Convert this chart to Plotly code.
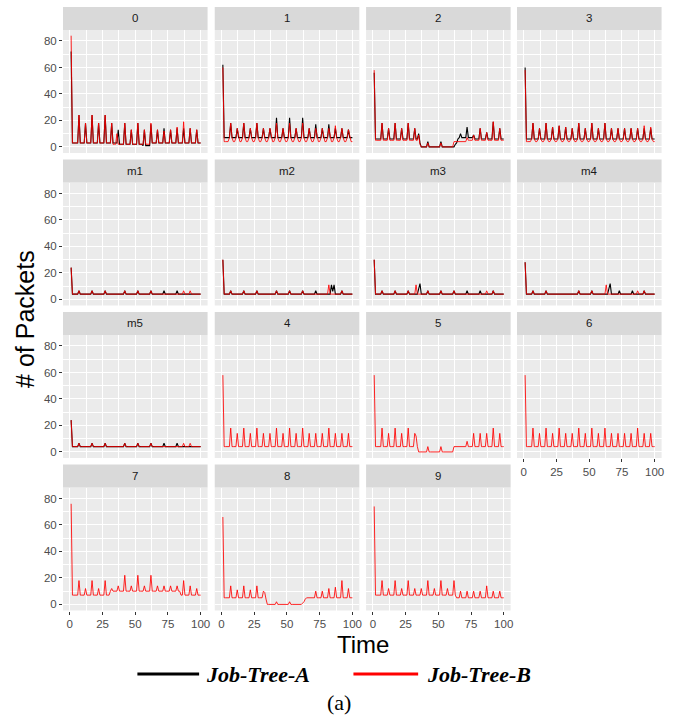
import plotly.graph_objects as go

# ---------------------------------------------------------------- data
TIME = list(range(1, 101))

PANELS = ["0", "1", "2", "3", "m1", "m2", "m3", "m4", "m5", "4", "5", "6", "7", "8", "9"]

# Job-Tree-A packet counts per node
tree_a_0 = [
    72, 3, 3, 3, 3, 3, 24, 3, 3, 3,
    3, 18, 3, 3, 3, 3, 24, 3, 3, 3,
    3, 18, 3, 3, 3, 3, 24, 3, 3, 3,
    3, 18, 3, 3, 3, 3, 13, 2, 2, 2,
    2, 18, 2, 2, 2, 2, 13, 2, 2, 2,
    2, 18, 2, 2, 2, 1, 13, 1, 1, 1,
    1, 17, 3, 3, 3, 3, 13, 3, 3, 3,
    3, 14, 3, 3, 3, 3, 13, 3, 3, 3,
    3, 14, 3, 3, 3, 3, 14, 3, 3, 3,
    3, 14, 3, 3, 3, 3, 13, 3, 3, 3,
]
tree_a_1 = [
    62, 7, 7, 7, 7, 7, 18, 7, 7, 7,
    7, 14, 7, 7, 7, 7, 18, 7, 7, 7,
    7, 14, 7, 7, 7, 7, 18, 7, 7, 7,
    7, 14, 7, 7, 7, 7, 14, 7, 7, 7,
    7, 22, 7, 7, 7, 7, 14, 7, 7, 7,
    7, 22, 7, 7, 7, 7, 14, 7, 7, 7,
    7, 22, 7, 7, 7, 7, 14, 7, 7, 7,
    7, 17, 7, 7, 7, 7, 14, 7, 7, 7,
    7, 17, 7, 7, 7, 7, 14, 7, 7, 7,
    7, 14, 7, 7, 7, 7, 13, 7, 7, 7,
]
tree_a_2 = [
    56, 6, 6, 6, 6, 6, 18, 6, 6, 6,
    6, 14, 6, 6, 6, 6, 18, 6, 6, 6,
    6, 14, 6, 6, 6, 6, 18, 6, 6, 6,
    6, 14, 6, 6, 10, 3, 0, 0, 0, 0,
    0, 4, 0, 0, 0, 0, 0, 0, 0, 0,
    0, 4, 0, 0, 0, 0, 0, 0, 0, 0,
    0, 0, 2, 3, 6, 7, 10, 7, 7, 7,
    7, 15, 7, 7, 7, 7, 9, 6, 6, 6,
    6, 14, 6, 6, 6, 6, 11, 6, 6, 6,
    6, 19, 6, 6, 6, 6, 14, 6, 6, 6,
]
tree_a_3 = [
    60, 6, 6, 6, 6, 6, 18, 6, 6, 6,
    6, 14, 6, 6, 6, 6, 18, 6, 6, 6,
    6, 15, 6, 6, 6, 6, 16, 6, 6, 6,
    6, 15, 6, 6, 6, 6, 14, 6, 6, 6,
    6, 18, 6, 6, 6, 6, 14, 6, 6, 6,
    6, 18, 6, 6, 6, 6, 14, 6, 6, 6,
    6, 18, 6, 6, 6, 6, 14, 6, 6, 6,
    6, 14, 6, 6, 6, 6, 14, 6, 6, 6,
    6, 14, 6, 6, 6, 6, 14, 6, 6, 6,
    6, 14, 6, 6, 6, 6, 14, 6, 6, 6,
]
tree_a_m1 = [
    24, 4, 4, 4, 4, 4, 6.5, 4, 4, 4,
    4, 4, 4, 4, 4, 4, 6.5, 4, 4, 4,
    4, 4, 4, 4, 4, 4, 6.5, 4, 4, 4,
    4, 4, 4, 4, 4, 4, 4, 4, 4, 4,
    4, 6.5, 4, 4, 4, 4, 4, 4, 4, 4,
    4, 6.5, 4, 4, 4, 4, 4, 4, 4, 4,
    4, 6.5, 4, 4, 4, 4, 4, 4, 4, 4,
    4, 6.5, 4, 4, 4, 4, 4, 4, 4, 4,
    4, 6.5, 4, 4, 4, 4, 4, 4, 4, 4,
    4, 4, 4, 4, 4, 4, 4, 4, 4, 4,
]
tree_a_m2 = [
    30, 4, 4, 4, 4, 4, 6.5, 4, 4, 4,
    4, 4, 4, 4, 4, 4, 6.5, 4, 4, 4,
    4, 4, 4, 4, 4, 4, 6.5, 4, 4, 4,
    4, 4, 4, 4, 4, 4, 4, 4, 4, 4,
    4, 6.5, 4, 4, 4, 4, 4, 4, 4, 4,
    4, 6.5, 4, 4, 4, 4, 4, 4, 4, 4,
    4, 6.5, 4, 4, 4, 4, 4, 4, 4, 4,
    4, 6.5, 4, 4, 4, 4, 4, 4, 4, 4,
    4, 4, 4, 11, 6, 11, 4, 4, 4, 4,
    4, 6.5, 4, 4, 4, 4, 4, 4, 4, 4,
]
tree_a_m3 = [
    30, 4, 4, 4, 4, 4, 6.5, 4, 4, 4,
    4, 4, 4, 4, 4, 4, 6.5, 4, 4, 4,
    4, 4, 4, 4, 4, 4, 6.5, 4, 4, 4,
    4, 4, 4, 4, 8, 12, 4, 4, 4, 4,
    4, 6.5, 4, 4, 4, 4, 4, 4, 4, 4,
    4, 6.5, 4, 4, 4, 4, 4, 4, 4, 4,
    4, 6.5, 4, 4, 4, 4, 4, 4, 4, 4,
    4, 6.5, 4, 4, 4, 4, 4, 4, 4, 4,
    4, 6.5, 4, 4, 4, 4, 4, 4, 4, 4,
    4, 6.5, 4, 4, 4, 4, 4, 4, 4, 4,
]
tree_a_m4 = [
    28, 4, 4, 4, 4, 4, 6.5, 4, 4, 4,
    4, 4, 4, 4, 4, 4, 6.5, 4, 4, 4,
    4, 4, 4, 4, 4, 4, 4, 4, 4, 4,
    4, 4, 4, 4, 4, 4, 4, 4, 4, 4,
    4, 6.5, 4, 4, 4, 4, 4, 4, 4, 4,
    4, 6.5, 4, 4, 4, 4, 4, 4, 4, 4,
    4, 4, 4, 4, 8, 12, 4, 4, 4, 4,
    4, 4, 6.5, 4, 4, 4, 4, 4, 4, 4,
    4, 4, 6.5, 4, 4, 4, 4, 4, 4, 4,
    4, 6.5, 4, 4, 4, 4, 4, 4, 4, 4,
]
tree_a_m5 = [
    24, 4, 4, 4, 4, 4, 6.5, 4, 4, 4,
    4, 4, 4, 4, 4, 4, 6.5, 4, 4, 4,
    4, 4, 4, 4, 4, 4, 6.5, 4, 4, 4,
    4, 4, 4, 4, 4, 4, 4, 4, 4, 4,
    4, 6.5, 4, 4, 4, 4, 4, 4, 4, 4,
    4, 6.5, 4, 4, 4, 4, 4, 4, 4, 4,
    4, 6.5, 4, 4, 4, 4, 4, 4, 4, 4,
    4, 6.5, 4, 4, 4, 4, 4, 4, 4, 4,
    4, 6.5, 4, 4, 4, 4, 4, 4, 4, 4,
    4, 4, 4, 4, 4, 4, 4, 4, 4, 4,
]

# Job-Tree-B packet counts per node
tree_b_0 = [
    84, 3, 3, 3, 3, 3, 24, 3, 3, 3,
    3, 18, 3, 3, 3, 3, 24, 3, 3, 3,
    3, 18, 3, 3, 3, 3, 24, 3, 3, 3,
    3, 18, 2, 2, 2, 10, 2, 2, 2, 2,
    2, 18, 2, 2, 2, 2, 13, 2, 2, 2,
    2, 18, 2, 2, 2, 2, 13, 2, 2, 2,
    2, 18, 3, 3, 3, 3, 13, 3, 3, 3,
    3, 12, 3, 3, 3, 3, 13, 3, 3, 3,
    3, 15, 3, 3, 3, 3, 19, 3, 3, 3,
    3, 14, 3, 3, 3, 3, 13, 3, 3, 3,
]
tree_b_1 = [
    60, 4, 4, 4, 4, 7, 18, 7, 4, 4,
    7, 14, 7, 4, 4, 7, 18, 7, 4, 4,
    7, 14, 7, 4, 4, 7, 18, 7, 4, 4,
    7, 14, 7, 4, 4, 7, 14, 7, 4, 4,
    7, 18, 7, 4, 4, 7, 14, 7, 4, 4,
    7, 18, 7, 4, 4, 7, 14, 7, 4, 4,
    7, 18, 7, 4, 4, 7, 14, 7, 4, 4,
    7, 14, 7, 4, 4, 7, 14, 7, 4, 4,
    7, 14, 7, 4, 4, 7, 16, 7, 4, 4,
    7, 14, 7, 4, 4, 7, 13, 7, 4, 4,
]
tree_b_2 = [
    58, 5, 5, 5, 5, 5, 18, 5, 5, 5,
    5, 14, 5, 5, 5, 5, 18, 5, 5, 5,
    5, 14, 5, 5, 5, 5, 18, 5, 5, 5,
    5, 14, 5, 5, 9, 2, 0, 0, 0, 0,
    0, 3, 0, 0, 0, 0, 0, 0, 0, 0,
    0, 3, 0, 0, 0, 0, 0, 0, 0, 0,
    0, 4, 4, 4, 4, 4, 4, 4, 4, 4,
    4, 7, 5, 5, 5, 5, 9, 5, 5, 5,
    5, 14, 5, 5, 5, 5, 11, 5, 5, 5,
    5, 19, 5, 5, 5, 5, 14, 5, 5, 5,
]
tree_b_3 = [
    58, 4, 4, 4, 4, 6, 18, 6, 4, 4,
    6, 14, 6, 4, 4, 6, 18, 6, 4, 4,
    6, 15, 6, 4, 4, 6, 16, 6, 4, 4,
    6, 15, 6, 4, 4, 6, 14, 6, 4, 4,
    6, 18, 6, 4, 4, 6, 14, 6, 4, 4,
    6, 18, 6, 4, 4, 6, 14, 6, 4, 4,
    6, 18, 6, 4, 4, 6, 14, 6, 4, 4,
    6, 14, 6, 4, 4, 6, 14, 6, 4, 4,
    6, 14, 6, 4, 4, 6, 14, 6, 4, 4,
    6, 16, 6, 4, 4, 6, 15, 6, 4, 4,
]
tree_b_m1 = [
    24, 4, 4, 4, 4, 4, 6.5, 4, 4, 4,
    4, 4, 4, 4, 4, 4, 6.5, 4, 4, 4,
    4, 4, 4, 4, 4, 4, 6.5, 4, 4, 4,
    4, 4, 4, 4, 4, 4, 4, 4, 4, 4,
    4, 6.5, 4, 4, 4, 4, 4, 4, 4, 4,
    4, 6.5, 4, 4, 4, 4, 4, 4, 4, 4,
    4, 6.5, 4, 4, 4, 4, 4, 4, 4, 4,
    4, 4, 4, 4, 4, 4, 4, 4, 4, 4,
    4, 4, 4, 4, 4, 4, 6.5, 4, 4, 4,
    4, 6.5, 4, 4, 4, 4, 4, 4, 4, 4,
]
tree_b_m2 = [
    30, 4, 4, 4, 4, 4, 6.5, 4, 4, 4,
    4, 4, 4, 4, 4, 4, 6.5, 4, 4, 4,
    4, 4, 4, 4, 4, 4, 6.5, 4, 4, 4,
    4, 4, 4, 4, 4, 4, 4, 4, 4, 4,
    4, 6.5, 4, 4, 4, 4, 4, 4, 4, 4,
    4, 6.5, 4, 4, 4, 4, 4, 4, 4, 4,
    4, 6.5, 4, 4, 4, 4, 4, 4, 4, 4,
    4, 4, 4, 4, 4, 4, 4, 4, 4, 4,
    4, 11, 4, 4, 4, 4, 4, 4, 4, 4,
    4, 6.5, 4, 4, 4, 4, 4, 4, 4, 4,
]
tree_b_m3 = [
    30, 4, 4, 4, 4, 4, 6.5, 4, 4, 4,
    4, 4, 4, 4, 4, 4, 6.5, 4, 4, 4,
    4, 4, 4, 4, 4, 4, 6.5, 4, 4, 4,
    4, 4, 11, 4, 4, 4, 4, 4, 4, 4,
    4, 6.5, 4, 4, 4, 4, 4, 4, 4, 4,
    4, 6.5, 4, 4, 4, 4, 4, 4, 4, 4,
    4, 6.5, 4, 4, 4, 4, 4, 4, 4, 4,
    4, 4, 4, 4, 4, 4, 4, 4, 4, 4,
    4, 4, 4, 4, 4, 4, 6.5, 4, 4, 4,
    4, 6.5, 4, 4, 4, 4, 4, 4, 4, 4,
]
tree_b_m4 = [
    28, 4, 4, 4, 4, 4, 6.5, 4, 4, 4,
    4, 4, 4, 4, 4, 4, 6.5, 4, 4, 4,
    4, 4, 4, 4, 4, 4, 4, 4, 4, 4,
    4, 4, 4, 4, 4, 4, 4, 4, 4, 4,
    4, 6.5, 4, 4, 4, 4, 4, 4, 4, 4,
    4, 6.5, 4, 4, 4, 4, 4, 4, 4, 4,
    4, 4, 11, 4, 4, 4, 4, 4, 4, 4,
    4, 4, 4, 4, 4, 4, 4, 4, 4, 4,
    4, 4, 4, 4, 4, 4, 6.5, 4, 4, 4,
    4, 6.5, 4, 4, 4, 4, 4, 4, 4, 4,
]
tree_b_m5 = [
    24, 4, 4, 4, 4, 4, 6.5, 4, 4, 4,
    4, 4, 4, 4, 4, 4, 6.5, 4, 4, 4,
    4, 4, 4, 4, 4, 4, 6.5, 4, 4, 4,
    4, 4, 4, 4, 4, 4, 4, 4, 4, 4,
    4, 6.5, 4, 4, 4, 4, 4, 4, 4, 4,
    4, 6.5, 4, 4, 4, 4, 4, 4, 4, 4,
    4, 6.5, 4, 4, 4, 4, 4, 4, 4, 4,
    4, 4, 4, 4, 4, 4, 4, 4, 4, 4,
    4, 4, 4, 4, 4, 4, 6.5, 4, 4, 4,
    4, 6.5, 4, 4, 4, 4, 4, 4, 4, 4,
]
tree_b_4 = [
    58, 4, 4, 4, 4, 4, 18, 4, 4, 4,
    4, 14, 4, 4, 4, 4, 18, 4, 4, 4,
    4, 14, 4, 4, 4, 4, 18, 4, 4, 4,
    4, 14, 4, 4, 4, 4, 14, 4, 4, 4,
    4, 18, 4, 4, 4, 4, 14, 4, 4, 4,
    4, 18, 4, 4, 4, 4, 14, 4, 4, 4,
    4, 18, 4, 4, 4, 4, 14, 4, 4, 4,
    4, 14, 4, 4, 4, 4, 14, 4, 4, 4,
    4, 18, 4, 4, 4, 4, 14, 4, 4, 4,
    4, 14, 4, 4, 4, 4, 14, 4, 4, 4,
]
tree_b_5 = [
    58, 4, 4, 4, 4, 4, 18, 4, 4, 4,
    4, 14, 4, 4, 4, 4, 18, 4, 4, 4,
    4, 14, 4, 4, 4, 4, 18, 4, 4, 4,
    4, 14, 12, 4, 0, 0, 0, 0, 0, 0,
    0, 4, 0, 0, 0, 0, 0, 0, 0, 0,
    0, 4, 0, 0, 0, 0, 0, 0, 0, 0,
    0, 4, 4, 4, 4, 4, 4, 4, 4, 4,
    4, 8, 4, 4, 4, 4, 14, 4, 4, 4,
    4, 14, 4, 4, 4, 4, 14, 4, 4, 4,
    4, 18, 4, 4, 4, 4, 14, 4, 4, 4,
]
tree_b_6 = [
    58, 4, 4, 4, 4, 4, 18, 4, 4, 4,
    4, 14, 4, 4, 4, 4, 18, 4, 4, 4,
    4, 14, 4, 4, 4, 4, 18, 4, 4, 4,
    4, 14, 4, 4, 4, 4, 14, 4, 4, 4,
    4, 18, 4, 4, 4, 4, 14, 4, 4, 4,
    4, 18, 4, 4, 4, 4, 14, 4, 4, 4,
    4, 18, 4, 4, 4, 4, 14, 4, 4, 4,
    4, 14, 4, 4, 4, 4, 14, 4, 4, 4,
    4, 14, 4, 4, 4, 4, 18, 4, 4, 4,
    4, 14, 4, 4, 4, 4, 14, 4, 4, 4,
]
tree_b_7 = [
    76, 7, 7, 7, 7, 7, 18, 7, 7, 7,
    7, 12, 7, 7, 7, 7, 18, 7, 7, 7,
    7, 12, 7, 7, 7, 7, 18, 7, 7, 7,
    10, 12, 10, 10, 10, 10, 14, 10, 10, 10,
    10, 22, 10, 10, 10, 10, 14, 10, 10, 10,
    10, 22, 10, 10, 10, 10, 14, 10, 10, 10,
    10, 22, 10, 10, 10, 10, 14, 10, 10, 10,
    10, 14, 10, 10, 10, 10, 14, 10, 10, 10,
    10, 14, 10, 10, 7, 7, 18, 7, 7, 7,
    7, 14, 7, 7, 7, 7, 12, 7, 7, 7,
]
tree_b_8 = [
    66, 5, 5, 5, 5, 5, 14, 5, 5, 5,
    5, 11, 5, 5, 5, 5, 14, 5, 5, 5,
    5, 11, 5, 5, 5, 5, 14, 5, 5, 5,
    5, 10, 9, 4, 0, 0, 0, 0, 0, 0,
    0, 2, 0, 0, 0, 0, 0, 0, 0, 0,
    0, 2, 0, 0, 0, 0, 0, 0, 0, 0,
    0, 1, 2, 4, 5, 5, 5, 5, 5, 5,
    5, 10, 5, 5, 5, 5, 10, 5, 5, 5,
    5, 12, 5, 5, 5, 5, 13, 5, 5, 5,
    5, 18, 5, 5, 5, 5, 12, 5, 5, 5,
]
tree_b_9 = [
    74, 7, 7, 7, 7, 7, 18, 7, 7, 7,
    7, 12, 7, 7, 7, 7, 18, 7, 7, 7,
    7, 12, 7, 7, 7, 7, 18, 7, 7, 7,
    7, 12, 7, 7, 7, 7, 12, 7, 7, 7,
    7, 18, 7, 7, 7, 7, 12, 7, 7, 7,
    7, 18, 7, 7, 7, 7, 12, 7, 7, 7,
    7, 18, 7, 5, 5, 5, 10, 5, 5, 5,
    5, 10, 5, 5, 5, 5, 10, 5, 5, 5,
    5, 10, 5, 5, 5, 5, 14, 5, 5, 5,
    5, 10, 5, 5, 5, 5, 10, 5, 5, 5,
]

TREE_A = {
    "0": tree_a_0, "1": tree_a_1, "2": tree_a_2, "3": tree_a_3,
    "m1": tree_a_m1, "m2": tree_a_m2, "m3": tree_a_m3, "m4": tree_a_m4, "m5": tree_a_m5,
}
TREE_B = {
    "0": tree_b_0, "1": tree_b_1, "2": tree_b_2, "3": tree_b_3,
    "m1": tree_b_m1, "m2": tree_b_m2, "m3": tree_b_m3, "m4": tree_b_m4, "m5": tree_b_m5,
    "4": tree_b_4, "5": tree_b_5, "6": tree_b_6, "7": tree_b_7, "8": tree_b_8, "9": tree_b_9,
}

X_TICKS = [0, 25, 50, 75, 100]
Y_TICKS = [0, 20, 40, 60, 80]

# ---------------------------------------------------------------- layout geometry (px)
W, H = 681, 717
COL_X0 = [63.3, 215.7, 367.7, 519.3]
PANEL_W = 145.2
ROW_Y0 = [7.0, 159.5, 312.0, 464.5]
STRIP_H = 23.0
PLOT_H = 123.0

BLACK = "#000000"
RED = "rgba(255,0,0,0.85)"
SANS = "Liberation Sans, Arial, sans-serif"
SERIF = "Liberation Serif, Times New Roman, serif"


def px_x(x):
    return x / W


def px_y(y):
    return 1 - y / H


fig = go.Figure()
shapes = []
annotations = []
layout_axes = {}

# panels that carry x tick labels (bottom of each column)
X_LABELLED = {"6", "7", "8", "9"}

for i, name in enumerate(PANELS):
    r, c = divmod(i, 4)
    n = i + 1
    xa = "x" if n == 1 else f"x{n}"
    ya = "y" if n == 1 else f"y{n}"
    x0 = COL_X0[c]
    x1 = x0 + PANEL_W
    ys = ROW_Y0[r]
    yp0 = ys + STRIP_H
    yp1 = yp0 + PLOT_H

    if name in TREE_A:
        fig.add_trace(go.Scatter(
            x=TIME, y=TREE_A[name], mode="lines", xaxis=xa, yaxis=ya,
            line=dict(color=BLACK, width=1.1), showlegend=False, hoverinfo="skip",
        ))
    fig.add_trace(go.Scatter(
        x=TIME, y=TREE_B[name], mode="lines", xaxis=xa, yaxis=ya,
        line=dict(color=RED, width=1.0), showlegend=False, hoverinfo="skip",
    ))

    show_x = name in X_LABELLED
    show_y = c == 0
    layout_axes["xaxis" if n == 1 else f"xaxis{n}"] = dict(
        domain=[px_x(x0), px_x(x1)], anchor=ya, range=[-5.2, 105.3],
        tickmode="array", tickvals=X_TICKS, showticklabels=show_x,
        ticks="outside" if show_x else "", ticklen=3, tickwidth=1, tickcolor="#333333",
        tickfont=dict(family=SANS, size=11.5, color="#4D4D4D"),
        showgrid=True, gridcolor="white", gridwidth=1.4,
        minor=dict(tick0=12.5, dtick=25, showgrid=True, gridcolor="white", gridwidth=0.7),
        zeroline=False, showline=False, fixedrange=True,
    )
    layout_axes["yaxis" if n == 1 else f"yaxis{n}"] = dict(
        domain=[px_y(yp1), px_y(yp0)], anchor=xa, range=[-4.6, 88.3],
        tickmode="array", tickvals=Y_TICKS, showticklabels=show_y,
        ticks="outside" if show_y else "", ticklen=3, tickwidth=1, tickcolor="#333333",
        tickfont=dict(family=SANS, size=11.5, color="#4D4D4D"),
        showgrid=True, gridcolor="white", gridwidth=1.4,
        minor=dict(tick0=10, dtick=20, showgrid=True, gridcolor="white", gridwidth=0.7),
        zeroline=False, showline=False, fixedrange=True,
    )

    # facet strip
    shapes.append(dict(
        type="rect", xref="paper", yref="paper",
        x0=px_x(x0), x1=px_x(x1), y0=px_y(yp0), y1=px_y(ys),
        fillcolor="#D9D9D9", line=dict(width=0), layer="below",
    ))
    annotations.append(dict(
        x=px_x((x0 + x1) / 2), y=px_y(ys + STRIP_H / 2), xref="paper", yref="paper",
        text=name, showarrow=False, xanchor="center", yanchor="middle",
        font=dict(family=SANS, size=11.5, color="#1A1A1A"),
    ))

# axis titles
annotations.append(dict(
    x=px_x(25), y=px_y(319), xref="paper", yref="paper", text="# of Packets",
    showarrow=False, textangle=-90, xanchor="center", yanchor="middle",
    font=dict(family=SANS, size=25, color="#000000"),
))
annotations.append(dict(
    x=px_x(365), y=px_y(644), xref="paper", yref="paper", text="Time",
    showarrow=False, xanchor="center", yanchor="middle",
    font=dict(family=SANS, size=24, color="#000000"),
))

# legend
LEGEND_Y = 674
for (lx0, lx1, col, label, tx) in [
    (138, 200, "#000000", "Job-Tree-A", 205),
    (355, 420, "#FF0000", "Job-Tree-B", 427),
]:
    shapes.append(dict(
        type="line", xref="paper", yref="paper",
        x0=px_x(lx0), x1=px_x(lx1), y0=px_y(LEGEND_Y), y1=px_y(LEGEND_Y),
        line=dict(color=col, width=3),
    ))
    annotations.append(dict(
        x=px_x(tx), y=px_y(LEGEND_Y), xref="paper", yref="paper",
        text=f"<b><i>{label}</i></b>", showarrow=False, xanchor="left", yanchor="middle",
        font=dict(family=SERIF, size=22, color="#000000"),
    ))

annotations.append(dict(
    x=px_x(340), y=px_y(702), xref="paper", yref="paper", text="(a)",
    showarrow=False, xanchor="center", yanchor="middle",
    font=dict(family=SERIF, size=22, color="#000000"),
))

fig.update_layout(
    width=W, height=H, margin=dict(l=0, r=0, t=0, b=0),
    paper_bgcolor="white", plot_bgcolor="#EBEBEB",
    shapes=shapes, annotations=annotations, showlegend=False,
    **layout_axes,
)

fig.write_html("out.html", config={"displayModeBar": False})
